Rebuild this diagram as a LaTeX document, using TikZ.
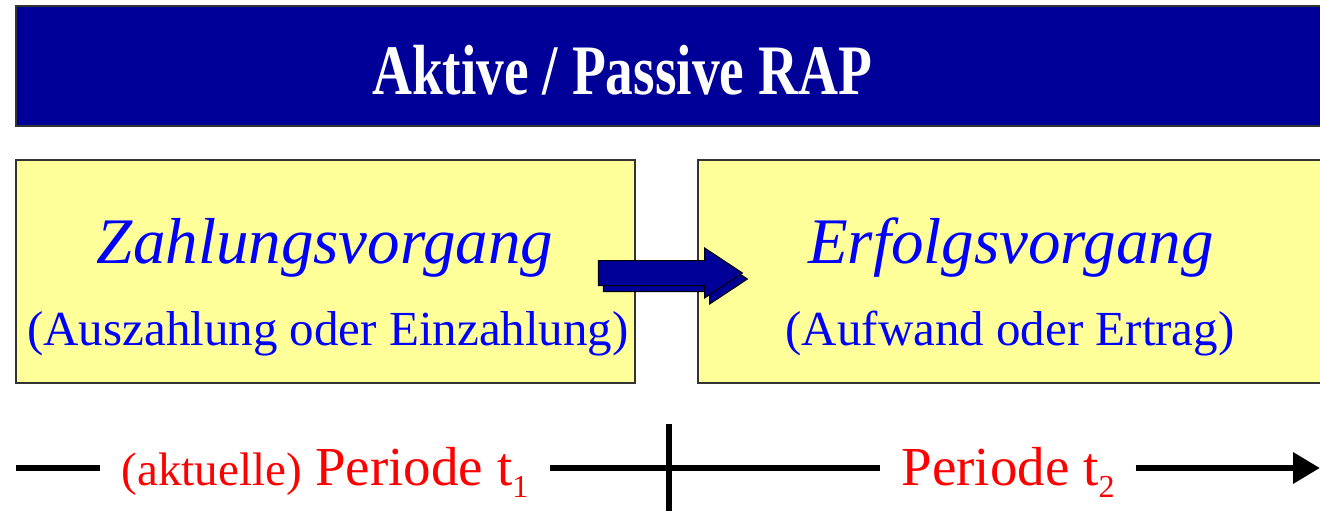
\documentclass[tikz,border=0pt]{standalone}
\usepackage{fontspec}
\setmainfont{Liberation Serif}
\usepackage{xcolor}
\usetikzlibrary{arrows.meta, positioning, shapes.arrows, shadows}
\definecolor{rapnavy}{HTML}{000099}
\definecolor{rapyellow}{HTML}{FFFF99}
\tikzset{
    rapdiagram/.style={x=1pt, y=-1pt, line join=miter},
    titlebar/.style={fill=rapnavy, draw=black!80, line width=1.5pt},
    vorgang/.style={fill=rapyellow, draw=black!80, line width=1.5pt, inner sep=0pt},
    headline/.style={anchor=base, text=blue, font=\fontsize{65}{65}\selectfont\itshape},
    subline/.style={anchor=base, text=blue, font=\fontsize{49}{49}\selectfont},
    periode/.style={anchor=base, text=red, inner xsep=21pt, font=\fontsize{55}{55}\selectfont},
    timeline/.style={line width=6.5pt},
    flow/.style={single arrow, draw=black, fill=rapnavy, line width=1pt,
        minimum height=144pt, inner xsep=0pt, inner ysep=12pt,
        single arrow head extend=12.5pt, single arrow tip angle=67,
        copy shadow={shadow xshift=5pt, shadow yshift=-6pt}},
}
\newcommand{\tsub}[1]{\raisebox{-12pt}{\fontsize{32}{32}\selectfont #1}}

\begin{document}
\begin{tikzpicture}[rapdiagram]
    \useasboundingbox (0,0) rectangle (1320,511);

    % title
    \node[titlebar, minimum width=1308pt, minimum height=120pt, inner sep=0pt] (bar) at (670,66) {};
    \node[anchor=base, text=white, font=\fontsize{71}{71}\selectfont\bfseries] (title) at (622,95)
        {\scalebox{0.78}[1]{Aktive / Passive RAP}};

    % the two boxes
    \node[vorgang, minimum width=619pt, minimum height=223pt] (zahlung) at (325.5,271.5) {};
    \node[vorgang, minimum width=626pt, minimum height=223pt] (erfolg)  at (1011,271.5) {};
    \node[headline] (zahlungT) at (325,263) {Zahlungsvorgang};
    \node[subline]  (zahlungS) at (328,345) {(Auszahlung oder Einzahlung)};
    \node[headline] (erfolgT)  at (1011,263) {Erfolgsvorgang};
    \node[subline]  (erfolgS)  at (1010,345) {(Aufwand oder Ertrag)};

    \node[flow] (fluss) at (661,273) {};

    % time axis
    \coordinate (tl0) at (16,468);
    \coordinate (tl1) at (1320,468);
    \node[periode] (per1) at (325,485) {{\fontsize{47}{47}\selectfont(aktuelle)} Periode t\tsub{1}};
    \node[periode] (per2) at (1008,485) {Periode t\tsub{2}};
    \draw[timeline] (tl0) -- (per1.west |- tl0);
    \draw[timeline] (per1.east |- tl0) -- (per2.west |- tl0);
    \draw[timeline, -{Triangle[length=27pt, width=30pt]}] (per2.east |- tl0) -- (tl1);
    \coordinate (cut) at (669,424);
    \draw[timeline] (cut) -- (cut |- 0,511);
\end{tikzpicture}
\end{document}
